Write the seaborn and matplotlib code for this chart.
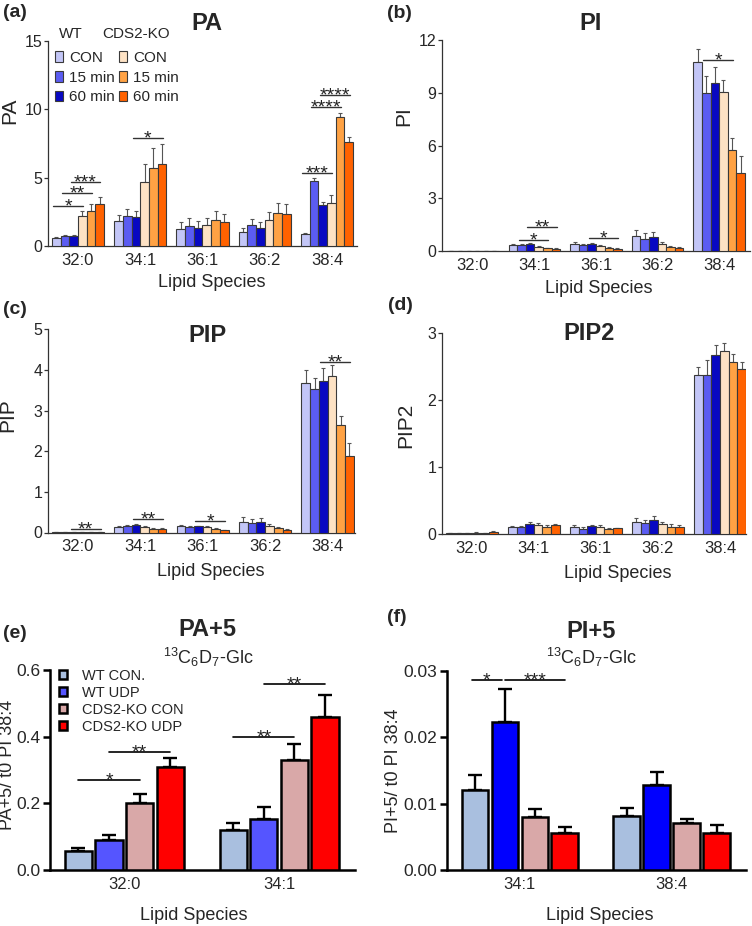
import numpy as np
import pandas as pd
import matplotlib
matplotlib.use("Agg")
import matplotlib.pyplot as plt
import seaborn as sns

# lipid species and treatment groups for panels a-d
species = ["32:0", "34:1", "36:1", "36:2", "38:4"]
groups = ["WT CON", "WT 15 min", "WT 60 min", "KO CON", "KO 15 min", "KO 60 min"]
legend_labels = ["CON", "15 min", "60 min", "CON", "15 min", "60 min"]
time_colors = ["#c3c6f7", "#5b5cf2", "#0808c2", "#fde2c4", "#ffa244", "#ff6200"]

# one row per group, one value per species
pa_mean = [[0.60, 1.83, 1.24, 1.02, 0.90],
           [0.75, 2.20, 1.44, 1.51, 4.75],
           [0.72, 2.15, 1.29, 1.34, 3.00],
           [2.17, 4.70, 1.51, 1.88, 3.17],
           [2.58, 5.73, 1.90, 2.39, 9.44],
           [3.05, 5.97, 1.78, 2.36, 7.60]]
pa_err = [[0.07, 0.41, 0.51, 0.30, 0.07],
          [0.07, 0.48, 0.63, 0.46, 0.25],
          [0.06, 0.39, 0.51, 0.41, 0.24],
          [0.39, 1.27, 0.56, 0.58, 0.53],
          [0.47, 1.47, 0.64, 0.73, 0.31],
          [0.51, 1.47, 0.56, 0.69, 0.35]]

pi_mean = [[0.01, 0.34, 0.41, 0.85, 10.76],
           [0.01, 0.32, 0.32, 0.70, 8.96],
           [0.01, 0.40, 0.40, 0.81, 9.58],
           [0.01, 0.25, 0.28, 0.38, 9.02],
           [0.005, 0.15, 0.17, 0.23, 5.76],
           [0.005, 0.13, 0.13, 0.17, 4.43]]
pi_err = [[0.0, 0.07, 0.08, 0.34, 0.72],
          [0.0, 0.07, 0.06, 0.30, 0.98],
          [0.0, 0.07, 0.05, 0.29, 0.89],
          [0.0, 0.05, 0.06, 0.11, 0.73],
          [0.0, 0.04, 0.04, 0.07, 0.68],
          [0.0, 0.04, 0.06, 0.06, 0.97]]

pip_mean = [[0.01, 0.13, 0.16, 0.27, 3.69],
            [0.01, 0.15, 0.13, 0.24, 3.52],
            [0.01, 0.18, 0.15, 0.26, 3.72],
            [0.005, 0.14, 0.13, 0.17, 3.84],
            [0.005, 0.09, 0.08, 0.11, 2.65],
            [0.005, 0.08, 0.06, 0.07, 1.88]]
pip_err = [[0.0, 0.03, 0.03, 0.10, 0.30],
           [0.0, 0.03, 0.03, 0.10, 0.28],
           [0.0, 0.03, 0.02, 0.10, 0.34],
           [0.0, 0.02, 0.03, 0.03, 0.29],
           [0.0, 0.01, 0.02, 0.02, 0.21],
           [0.0, 0.02, 0.01, 0.01, 0.31]]

pip2_mean = [[0.01, 0.10, 0.105, 0.185, 2.38],
             [0.01, 0.11, 0.08, 0.16, 2.38],
             [0.01, 0.155, 0.115, 0.205, 2.67],
             [0.02, 0.135, 0.105, 0.145, 2.73],
             [0.01, 0.11, 0.08, 0.11, 2.57],
             [0.03, 0.135, 0.085, 0.11, 2.47]]
pip2_err = [[0.005, 0.015, 0.025, 0.055, 0.12],
            [0.005, 0.015, 0.02, 0.05, 0.21],
            [0.005, 0.02, 0.025, 0.065, 0.15],
            [0.005, 0.035, 0.025, 0.04, 0.12],
            [0.005, 0.02, 0.01, 0.035, 0.11],
            [0.01, 0.015, 0.01, 0.025, 0.10]]

# significance bars: (species index, from group, to group, y, label)
pa_sig = [(0, 0, 3, 2.93, "*"), (0, 1, 4, 3.86, "**"), (0, 2, 5, 4.70, "***"),
          (1, 2, 5, 7.88, "*"), (4, 0, 3, 5.32, "***"),
          (4, 1, 4, 10.15, "****"), (4, 2, 5, 11.07, "****")]
pi_sig = [(1, 1, 4, 0.63, "*"), (1, 2, 5, 1.38, "**"), (2, 2, 5, 0.72, "*"),
          (4, 1, 4, 10.85, "*")]
pip_sig = [(0, 2, 5, 0.09, "**"), (1, 2, 5, 0.34, "**"), (2, 2, 5, 0.29, "*"),
           (4, 2, 5, 4.20, "**")]
pip2_sig = []

# panels e-f
udp_groups = ["WT CON.", "WT UDP", "CDS2-KO CON", "CDS2-KO UDP"]
pa5_colors = ["#a9bfdf", "#5555ff", "#d9a8a8", "#ff0000"]
pi5_colors = ["#a9bfdf", "#0000ff", "#d9a8a8", "#ff0000"]

pa5_species = ["32:0", "34:1"]
pa5_mean = [[0.056, 0.119], [0.089, 0.154], [0.201, 0.331], [0.308, 0.460]]
pa5_err = [[0.011, 0.021], [0.017, 0.036], [0.026, 0.048], [0.028, 0.065]]
pa5_sig = [(0, 0, 2, 0.27, "*"), (0, 1, 3, 0.353, "**"),
           (1, 0, 2, 0.40, "**"), (1, 1, 3, 0.558, "**")]

pi5_species = ["34:1", "38:4"]
pi5_mean = [[0.0121, 0.00815], [0.02225, 0.0128], [0.00795, 0.0071], [0.0055, 0.0055]]
pi5_err = [[0.00225, 0.00115], [0.005, 0.00195], [0.0012, 0.00055], [0.0009, 0.00125]]
pi5_sig = [(0, 0, 1, 0.0286, "*"), (0, 1, 3, 0.0286, "***")]

sns.set_style("ticks")
plt.rcParams['font.family'] = ['Liberation Sans', 'DejaVu Sans']
plt.rcParams['mathtext.fontset'] = 'custom'
plt.rcParams['mathtext.rm'] = 'Liberation Sans'
plt.rcParams['mathtext.it'] = 'Liberation Sans'

W, H = 752, 926
fig = plt.figure(figsize=(W / 100, H / 100), dpi=100)


def box(l, t, r, b):
    return [l / W, 1 - b / H, (r - l) / W, (b - t) / H]


def long_df(mean, cats, grps):
    rows = []
    for g, m_row in zip(grps, mean):
        for c, m in zip(cats, m_row):
            rows.append({"species": c, "group": g, "value": m})
    return pd.DataFrame(rows)


def bar_panel(ax, mean, err, cats, grps, colors, width, gap, heavy):
    df = long_df(mean, cats, grps)
    edge_col = "black" if heavy else "#3a3a3a"
    edge_lw = 1.8 if heavy else 0.8
    sns.barplot(data=df, x="species", y="value", hue="group", order=cats,
                hue_order=grps, palette=colors, width=width, gap=gap,
                errorbar=None, edgecolor=edge_col, linewidth=edge_lw,
                saturation=1, legend=False, ax=ax)
    for cont, e_row in zip(ax.containers, err):
        xs = [p.get_x() + p.get_width() / 2 for p in cont]
        ys = [p.get_height() for p in cont]
        for p in cont:
            p.set_zorder(3)
        if heavy:
            ax.errorbar(xs, ys, yerr=[np.zeros(len(e_row)), e_row], fmt="none",
                        ecolor="black", elinewidth=1.7, capsize=5, capthick=1.7, zorder=2)
        else:
            ax.errorbar(xs, ys, yerr=[np.zeros(len(e_row)), e_row], fmt="none",
                        ecolor="#555555", elinewidth=0.8, capsize=1.6, capthick=0.8, zorder=2)
    sns.despine(ax=ax)
    spine_col = "black" if heavy else "#333333"
    spine_lw = 1.8 if heavy else 0.9
    for s in ["left", "bottom"]:
        ax.spines[s].set_color(spine_col)
        ax.spines[s].set_linewidth(spine_lw)
    ax.tick_params(axis="x", length=0, pad=5, labelsize=12)
    if heavy:
        ax.tick_params(axis="y", length=5, width=1.8, color="black", labelsize=12.5, pad=2)
    else:
        ax.tick_params(axis="y", length=3, width=0.9, color="#333333", labelsize=11.5, pad=1)


def add_sig(ax, sig, heavy):
    for cat, i, j, y, label in sig:
        b0 = ax.containers[i][cat]
        b1 = ax.containers[j][cat]
        w = b0.get_width()
        if heavy:
            x0 = b0.get_x() + 0.5 * w
            x1 = b1.get_x() + 0.5 * w
            if i == 0 and j == 1:
                x0, x1 = x0 - 0.02, x1 - 0.02
            ax.plot([x0, x1], [y, y], color="black", lw=1.2, zorder=4, clip_on=False)
        else:
            x0 = b0.get_x() + 0.15 * w
            x1 = b1.get_x() + 0.6 * w
            ax.plot([x0, x1], [y, y], color="#333333", lw=1.0, zorder=4, clip_on=False)
        ax.annotate(label, ((x0 + x1) / 2, y), xytext=(0, -4), textcoords="offset points",
                    ha="center", va="baseline", fontsize=14, color="#222222")


def fig_text(x, y, s, **kw):
    fig.text(x / W, 1 - y / H, s, ha="center", va="center", **kw)


# ---- panels a-d
small = [
    ("(a)", "PA", pa_mean, pa_err, pa_sig, (48, 41, 357, 246), 15, 5, (-0.48, 4.48),
     (15, 12.5), (207, 23), (-0.123, 0.66), (0.53, -0.18)),
    ("(b)", "PI", pi_mean, pi_err, pi_sig, (442, 40, 750, 251), 12, 3, (-0.5, 4.5),
     (399, 13), (591, 23), (-0.123, 0.64), (0.51, -0.18)),
    ("(c)", "PIP", pip_mean, pip_err, pip_sig, (48, 329.3, 355, 532.5), 5, 1, (-0.48, 4.44),
     (15, 309), (207, 335), (-0.13, 0.58), (0.53, -0.19)),
    ("(d)", "PIP2", pip2_mean, pip2_err, pip2_sig, (442, 333, 746, 534), 3, 1, (-0.48, 4.42),
     (400, 306), (589, 333), (-0.12, 0.54), (0.578, -0.195)),
]

for tag, name, mean, err, sig, rect, ytop, ystep, xl, tag_xy, title_xy, ylab_xy, xlab_xy in small:
    ax = fig.add_axes(box(*rect))
    bar_panel(ax, mean, err, species, groups, time_colors, 0.835, 0, heavy=False)
    add_sig(ax, sig, heavy=False)
    ax.set_ylim(0, ytop)
    ax.set_yticks(np.arange(0, ytop + 0.01, ystep))
    ax.set_xlim(*xl)
    ax.set_ylabel(name, fontsize=15, va="center")
    ax.yaxis.set_label_coords(*ylab_xy)
    ax.set_xlabel("Lipid Species", fontsize=13, va="center")
    ax.xaxis.set_label_coords(*xlab_xy)
    fig_text(*tag_xy, tag, fontsize=14, fontweight="bold")
    fig_text(*title_xy, name, fontsize=17, fontweight="bold")
    if name == "PA":
        ax.legend(ax.containers, legend_labels, ncol=2, frameon=False, fontsize=11,
                  handlelength=0.5, handleheight=0.7, handletextpad=0.4,
                  columnspacing=0.3, labelspacing=0.37, borderpad=0, borderaxespad=0,
                  loc="upper left", bbox_to_anchor=(55 / W, 1 - 51 / H),
                  bbox_transform=fig.transFigure)
        fig_text(71, 34, "WT", fontsize=11)
        fig_text(136, 34, "CDS2-KO", fontsize=11)

# ---- panels e-f
big = [
    ("(e)", "PA+5", "PA+5/ t0 PI 38:4", pa5_species, pa5_mean, pa5_err, pa5_sig, pa5_colors,
     (50, 670, 355, 870), 0.6, 0.2, "{:.1f}", (15, 633), (207, 630), (208, 657),
     (-0.14, 0.525), (0.47, -0.228)),
    ("(f)", "PI+5", "PI+5/ t0 PI 38:4", pi5_species, pi5_mean, pi5_err, pi5_sig, pi5_colors,
     (447, 670.7, 746, 870), 0.03, 0.01, "{:.2f}", (397, 618), (591, 631), (591, 657),
     (-0.18, 0.5), (0.51, -0.228)),
]

for tag, name, ylab, cats, mean, err, sig, cols, rect, ytop, ystep, fmt, tag_xy, title_xy, sub_xy, ylab_xy, xlab_xy in big:
    ax = fig.add_axes(box(*rect))
    bar_panel(ax, mean, err, cats, udp_groups, cols, 0.79, 0.11, heavy=True)
    add_sig(ax, sig, heavy=True)
    ax.set_ylim(0, ytop)
    ticks = np.linspace(0, ytop, 4)
    ax.set_yticks(ticks)
    ax.set_yticklabels([fmt.format(t) for t in ticks])
    ax.set_xlim(-0.48, 1.49)
    ax.set_ylabel(ylab, fontsize=13, va="center")
    ax.yaxis.set_label_coords(*ylab_xy)
    ax.set_xlabel("Lipid Species", fontsize=13, va="center")
    ax.xaxis.set_label_coords(*xlab_xy)
    fig_text(*tag_xy, tag, fontsize=14, fontweight="bold")
    fig_text(*title_xy, name, fontsize=17, fontweight="bold")
    fig_text(*sub_xy, r"$^{13}$C$_{6}$D$_{7}$-Glc", fontsize=13)
    if name == "PA+5":
        ax.legend(ax.containers, udp_groups, frameon=False, fontsize=10.5,
                  handlelength=0.55, handleheight=0.55, handletextpad=1.0,
                  labelspacing=0.2, borderpad=0, borderaxespad=0,
                  loc="upper left", bbox_to_anchor=(59 / W, 1 - 669 / H),
                  bbox_transform=fig.transFigure)

fig.savefig("out.png", dpi=100)
